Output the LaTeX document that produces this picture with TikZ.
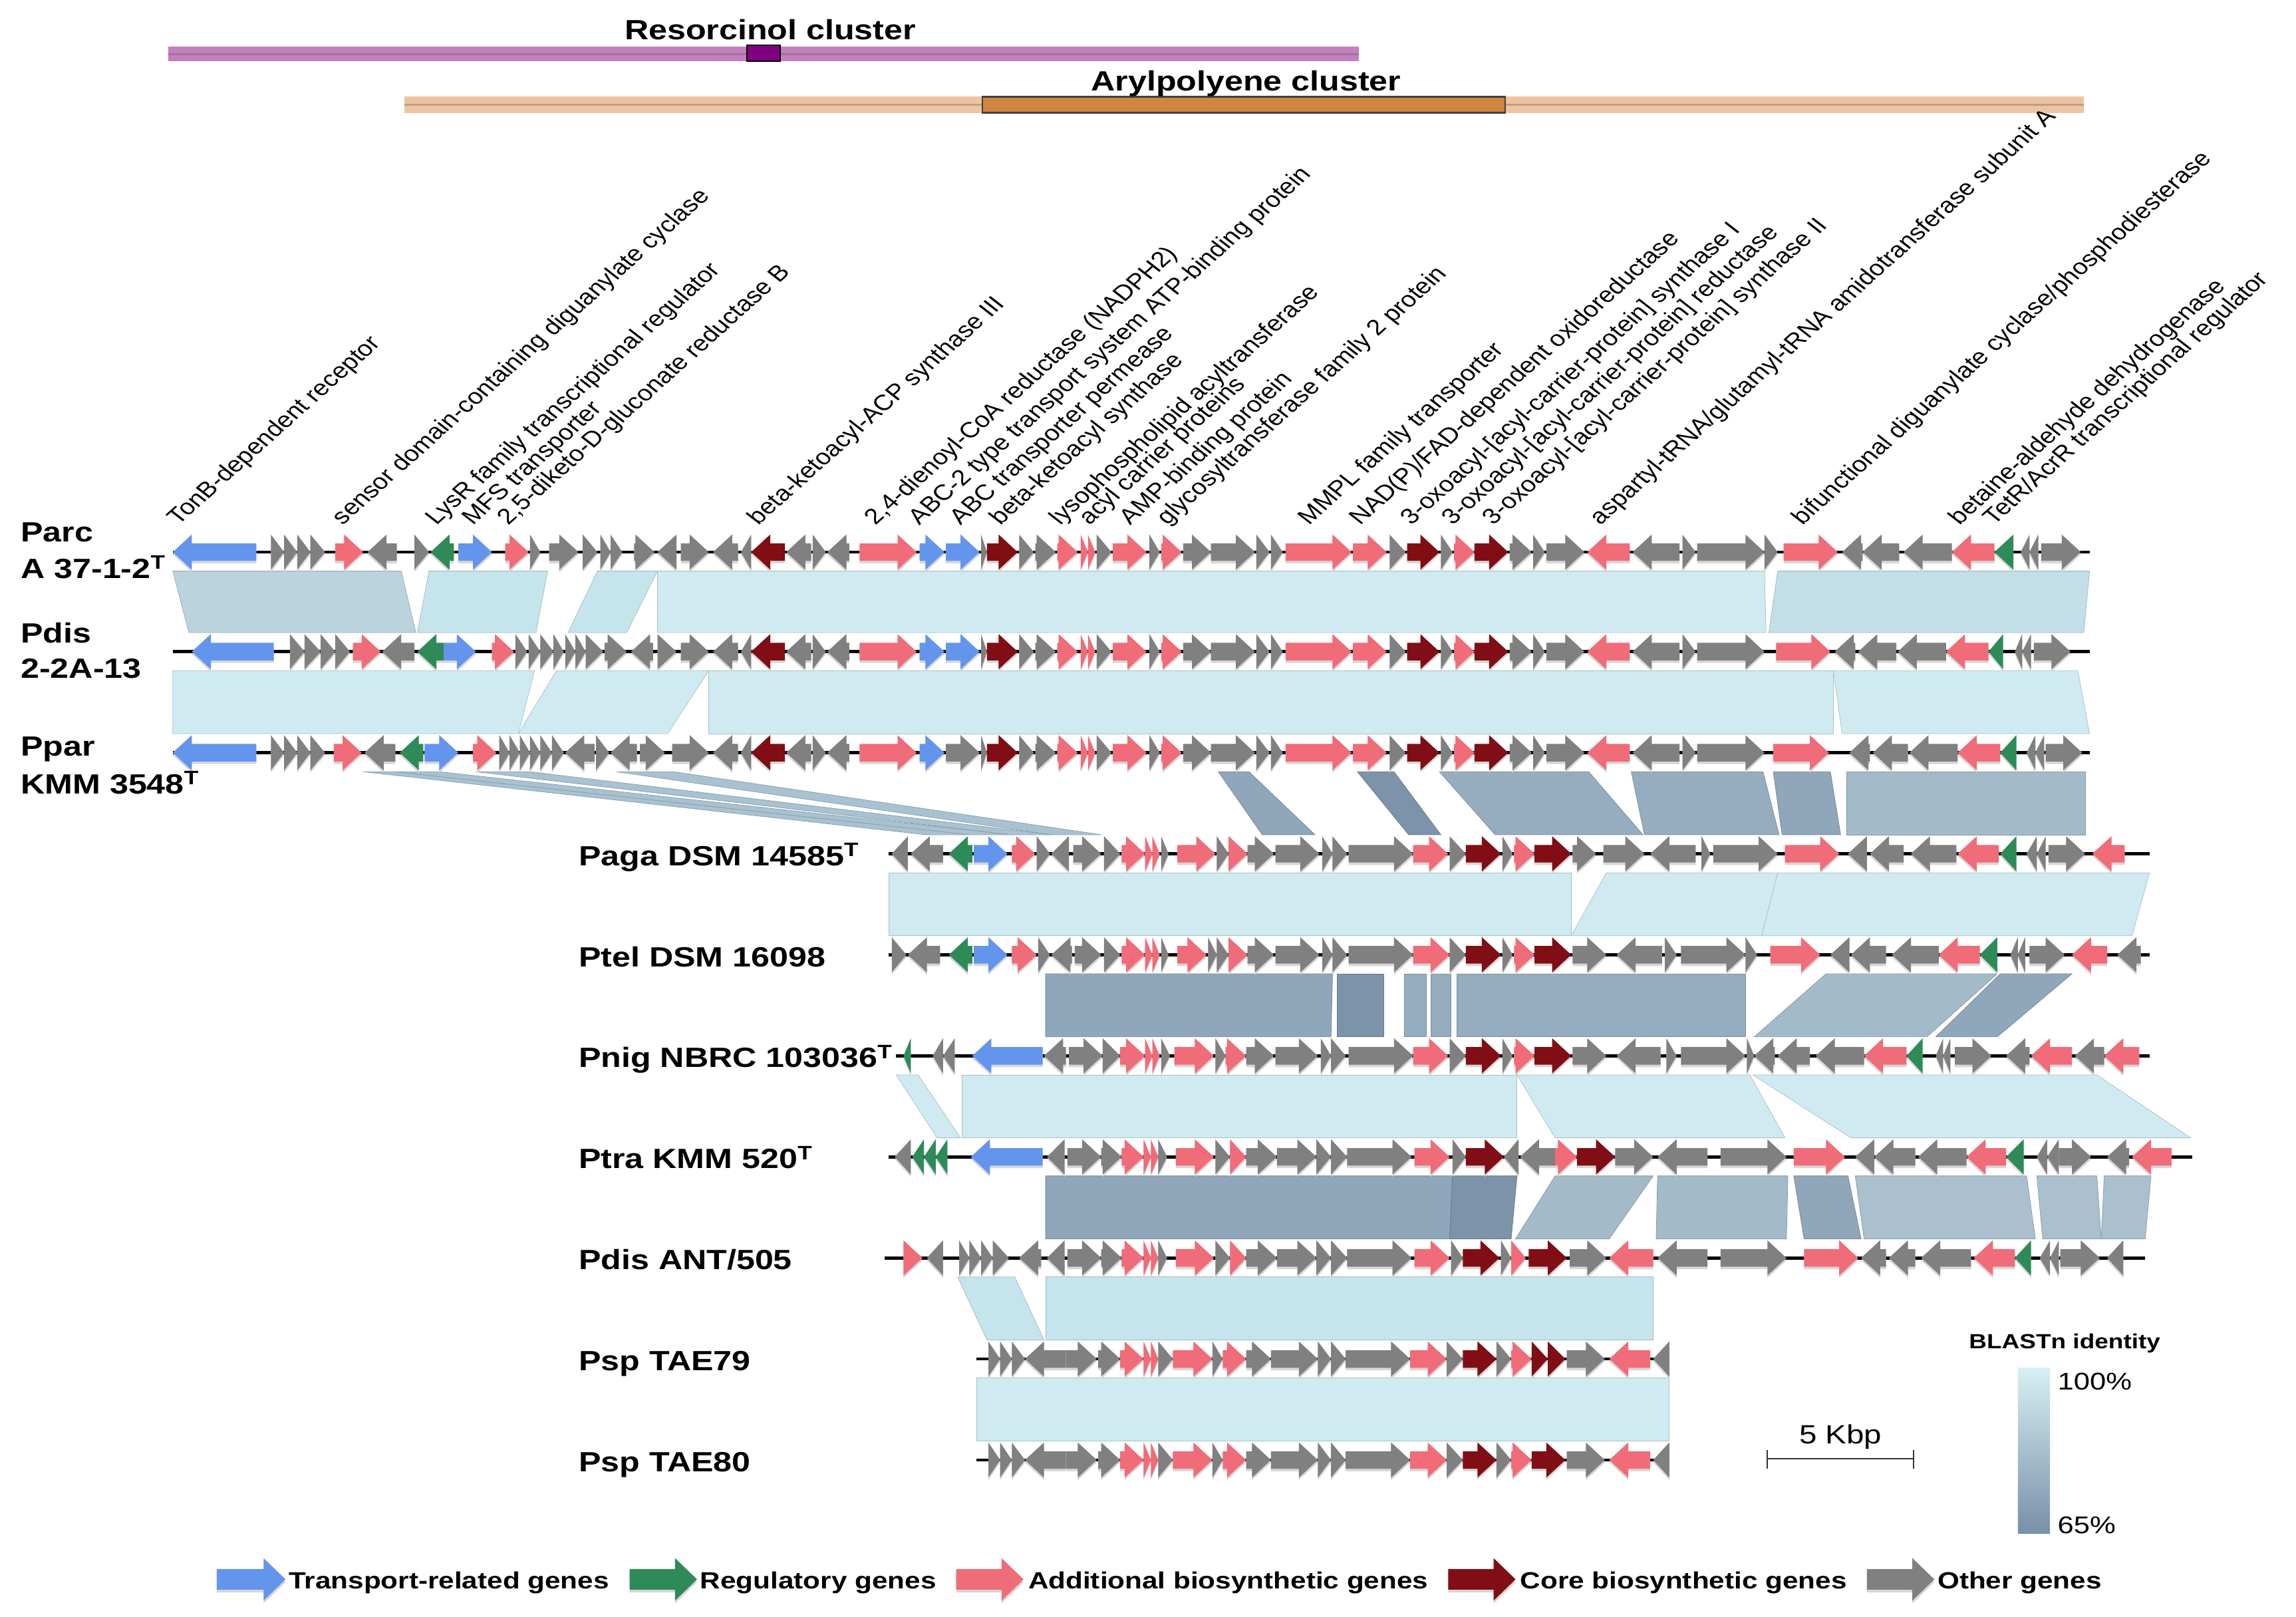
\documentclass[tikz,border=0pt]{standalone}
\usepackage{fontspec}
\setmainfont{Liberation Sans}
\definecolor{cT}{RGB}{100,149,237}
\definecolor{cG}{RGB}{46,139,87}
\definecolor{cA}{RGB}{240,108,120}
\definecolor{cC}{RGB}{128,14,20}
\definecolor{cO}{RGB}{128,128,128}
\definecolor{bHi}{RGB}{207,235,241}
\definecolor{bA}{RGB}{186,211,221}
\definecolor{bB}{RGB}{198,228,235}
\definecolor{bE}{RGB}{194,223,231}
\definecolor{bS}{RGB}{168,194,210}
\definecolor{dA}{RGB}{143,166,187}
\definecolor{dB}{RGB}{124,147,170}
\definecolor{dC}{RGB}{150,173,191}
\definecolor{dD}{RGB}{163,186,201}
\definecolor{dE}{RGB}{170,192,206}
\definecolor{purA}{RGB}{194,128,192}
\definecolor{purB}{RGB}{160,118,150}
\definecolor{purC}{RGB}{128,0,128}
\definecolor{orA}{RGB}{236,197,160}
\definecolor{orB}{RGB}{190,160,135}
\definecolor{orC}{RGB}{206,134,64}
\definecolor{gradTop}{RGB}{214,240,244}
\definecolor{gradBot}{RGB}{120,144,168}
% gene arrows
\newcommand\gR[3]{%
 \pgfmathsetmacro\ghx{max(#1,#2-13)}%
 \fill[black!16] (#1,\ry-4.3) -- (\ghx,\ry-4.3) -- (\ghx,\ry-10.3) -- (#2,\ry+1.7) -- (\ghx,\ry+13.7) -- (\ghx,\ry+7.7) -- (#1,\ry+7.7) -- cycle;
 \fill[#3] (#1,\ry-6) -- (\ghx,\ry-6) -- (\ghx,\ry-12) -- (#2,\ry) -- (\ghx,\ry+12) -- (\ghx,\ry+6) -- (#1,\ry+6) -- cycle;}
\newcommand\gL[3]{%
 \pgfmathsetmacro\ghx{min(#2,#1+13)}%
 \fill[black!16] (#2,\ry-4.3) -- (\ghx,\ry-4.3) -- (\ghx,\ry-10.3) -- (#1,\ry+1.7) -- (\ghx,\ry+13.7) -- (\ghx,\ry+7.7) -- (#2,\ry+7.7) -- cycle;
 \fill[#3] (#2,\ry-6) -- (\ghx,\ry-6) -- (\ghx,\ry-12) -- (#1,\ry) -- (\ghx,\ry+12) -- (\ghx,\ry+6) -- (#2,\ry+6) -- cycle;}
\newcommand\lgR[3]{%
 \fill[black!16] (#1,1073.5) -- (#2-15,1073.5) -- (#2-15,1066) -- (#2,1080.5) -- (#2-15,1095) -- (#2-15,1087.5) -- (#1,1087.5) -- cycle;
 \fill[#3] (#1,1071.5) -- (#2-15,1071.5) -- (#2-15,1064) -- (#2,1078.5) -- (#2-15,1093) -- (#2-15,1085.5) -- (#1,1085.5) -- cycle;}
% bands
\newcommand\bnd[7]{\filldraw[fill=#1,draw=#1!82!black,line width=0.35pt] (#4,#2) -- (#5,#2) -- (#7,#3) -- (#6,#3) -- cycle;}
% text helper
\newcommand\tx[4]{\begin{scope}[shift={(#1)}]\node[#2] (#3) at (0,0) {#4};\end{scope}}
\newcommand\glab[3]{\begin{scope}[shift={(#1,359)}]\node[glab] (#2) at (0,0) {#3};\end{scope}}
% common middle section of the first three genomes
\newcommand\midA[1]{%
\gL{513}{536}{cC}\gL{537}{554}{cO}\gR{555}{564}{cO}\gL{565}{580}{cO}%
\gR{587}{626}{cA}\gR{628}{645}{cT}\gR{646}{669}{#1}\gR{670}{674}{cO}%
\gR{674}{695}{cC}\gR{696}{706}{cO}\gR{707}{721}{cO}\gR{722}{736}{cA}%
\gR{738}{743}{cA}\gR{743}{748}{cA}\gR{749}{759}{cO}\gR{760}{783}{cA}%
\gR{785}{792}{cO}\gR{793}{807}{cA}\gR{808}{827}{cO}\gR{827}{857}{cO}%
\gR{858}{867}{cO}\gR{868}{876}{cO}\gR{878}{923}{cA}\gR{924}{947}{cA}%
\gR{949}{960}{cO}\gR{961}{983}{cC}\gR{984}{992}{cO}\gR{993}{1007}{cA}%
\gR{1007}{1030}{cC}\gR{1031}{1046}{cO}\gR{1047}{1055}{cO}\gR{1056}{1082}{cO}%
\gL{1084}{1113}{cA}\gL{1115}{1147}{cO}\gR{1149}{1158}{cO}\gR{1159}{1205}{cO}}
\begin{document}
\begin{tikzpicture}[x=1pt,y=-1pt,
  rlab/.style={anchor=base west,inner sep=0pt,font=\bfseries\fontsize{19}{19}\selectfont,xscale=1.2},
  glab/.style={anchor=base west,inner sep=0pt,font=\fontsize{15}{15}\selectfont,xscale=1.2,rotate=47},
  leg/.style={anchor=base west,inner sep=0pt,font=\bfseries\fontsize{16}{16}\selectfont,xscale=1.2},
  ttl/.style={anchor=base,inner sep=0pt,font=\bfseries\fontsize{19}{19}\selectfont,xscale=1.2},
  gline/.style={line width=2.2pt,black}]
\useasboundingbox (0,0) rectangle (1568,1104);
\fill[white] (0,0) rectangle (1568,1104);

% ---------- cluster bars ----------
\fill[purA] (115,32) rectangle (928,42);
\draw[purB,line width=1.4pt] (115,37) -- (928,37);
\filldraw[fill=purC,draw=black,line width=0.9pt] (510,31) rectangle (533,42);
\tx{526,27}{ttl}{resT}{Resorcinol cluster}
\fill[orA] (276,66) rectangle (1423,77);
\draw[orB,line width=1.4pt] (276,71.5) -- (1423,71.5);
\filldraw[fill=orC,draw=black!75,line width=1.1pt] (671,66) rectangle (1028,77);
\tx{851,62}{ttl}{aryT}{Arylpolyene cluster}

% ---------- BLAST bands ----------
\bnd{bA}{390}{432}{118}{274}{129}{284}
\bnd{bB}{390}{432}{293}{374}{285}{366}
\bnd{bB}{390}{432}{408}{449}{388}{428}
\bnd{bHi}{390}{432}{449}{1205}{449}{1206}
\bnd{bE}{390}{432}{1214}{1427}{1208}{1423}

\bnd{bHi}{458}{501}{118}{365}{118}{354}
\bnd{bHi}{458}{501}{380}{484}{354}{456}
\bnd{bHi}{458}{501}{484}{1252}{484}{1252}
\bnd{bHi}{458}{501}{1252}{1419}{1258}{1427}

\bnd{bS}{527}{570}{248}{270}{632}{662}
\bnd{bS}{527}{570}{270}{300}{662}{690}
\bnd{bS}{527}{570}{325}{362}{690}{718}
\bnd{bS}{527}{570}{421}{460}{718}{752}
\bnd{dA}{527}{570}{832}{853}{862}{898}
\bnd{dB}{527}{570}{927}{952}{962}{984}
\bnd{dC}{527}{570}{983}{1085}{1021}{1122}
\bnd{dC}{527}{570}{1114}{1204}{1123}{1215}
\bnd{dA}{527}{570}{1211}{1250}{1217}{1257}
\bnd{dD}{527}{570}{1261}{1424}{1261}{1424}

\bnd{bHi}{596}{639}{607}{1073}{607}{1073}
\bnd{bHi}{596}{639}{1097}{1214}{1073}{1203}
\bnd{bHi}{596}{639}{1214}{1468}{1203}{1456}

\bnd{dA}{665}{708}{714}{910}{714}{909}
\bnd{dB}{665}{708}{913}{945}{913}{945}
\bnd{dC}{665}{708}{959}{974}{959}{974}
\bnd{dC}{665}{708}{977}{991}{977}{991}
\bnd{dC}{665}{708}{995}{1192}{995}{1192}
\bnd{dD}{665}{708}{1247}{1364}{1198}{1316}
\bnd{dA}{665}{708}{1366}{1415}{1322}{1364}

\bnd{bHi}{734}{777}{612}{627}{640}{656}
\bnd{bHi}{734}{777}{657}{1036}{657}{1036}
\bnd{bHi}{734}{777}{1036}{1195}{1062}{1219}
\bnd{bHi}{734}{777}{1197}{1432}{1264}{1496}

\bnd{dA}{803}{846}{714}{992}{714}{990}
\bnd{dB}{803}{846}{992}{1036}{990}{1032}
\bnd{dD}{803}{846}{1062}{1129}{1035}{1099}
\bnd{dD}{803}{846}{1132}{1221}{1131}{1220}
\bnd{dA}{803}{846}{1225}{1262}{1232}{1271}
\bnd{dE}{803}{846}{1267}{1384}{1273}{1390}
\bnd{dE}{803}{846}{1391}{1432}{1395}{1435}
\bnd{dE}{803}{846}{1437}{1469}{1435}{1465}

\bnd{bB}{872}{915}{654}{693}{674}{713}
\bnd{bB}{872}{915}{714}{1129}{714}{1129}

\bnd{bHi}{941}{984}{667}{1140}{667}{1140}

% ---------- genome lines ----------
\draw[gline] (118,377) -- (1427,377);
\draw[gline] (118,445) -- (1427,445);
\draw[gline] (118,514) -- (1427,514);
\draw[gline] (607,583) -- (1468,583);
\draw[gline] (607,652) -- (1468,652);
\draw[gline] (612,721) -- (1468,721);
\draw[gline] (607,790) -- (1497,790);
\draw[gline] (604,859) -- (1465,859);
\draw[gline] (667,928) -- (1140,928);
\draw[gline] (667,997) -- (1140,997);

% ---------- Parc A 37-1-2 ----------
\def\ry{377}
\gL{118}{175}{cT}
\gR{185}{194}{cO}\gR{194}{203}{cO}\gR{203}{212}{cO}\gR{212}{222}{cO}
\gR{229}{248}{cA}\gL{251}{271}{cO}\gR{283}{293}{cO}\gL{294}{310}{cG}
\gR{313}{336}{cT}\gR{345}{361}{cA}\gR{362}{369}{cO}\gR{375}{395}{cO}
\gR{398}{408}{cO}\gR{410}{417}{cO}\gR{417}{425}{cO}\gR{433}{447}{cO}
\gL{449}{462}{cO}\gR{465}{484}{cO}\gL{487}{504}{cO}\gL{506}{513}{cO}
\midA{cT}
\gR{1205}{1214}{cO}\gR{1218}{1255}{cA}\gL{1258}{1272}{cO}\gL{1272}{1297}{cO}
\gL{1300}{1333}{cO}\gL{1333}{1362}{cA}\gL{1362}{1375}{cG}
\gL{1380}{1386}{cO}\gL{1386}{1392}{cO}\gR{1394}{1421}{cO}

% ---------- Pdis 2-2A-13 ----------
\def\ry{445}
\gL{131}{187}{cT}
\gR{198}{208}{cO}\gR{208}{219}{cO}\gR{219}{229}{cO}\gR{229}{239}{cO}
\gR{241}{260}{cA}\gL{261}{283}{cO}\gL{285}{303}{cG}\gR{303}{325}{cT}
\gR{336}{351}{cA}\gR{352}{360}{cO}\gR{361}{369}{cO}\gR{369}{378}{cO}
\gR{378}{385}{cO}\gR{386}{393}{cO}\gR{393}{400}{cO}\gR{400}{412}{cO}
\gR{413}{428}{cO}\gL{431}{446}{cO}\gR{449}{462}{cO}\gR{465}{484}{cO}
\gL{487}{504}{cO}\gL{506}{513}{cO}
\midA{cT}
\gR{1213}{1250}{cA}\gL{1253}{1267}{cO}\gL{1269}{1295}{cO}\gL{1296}{1329}{cO}
\gL{1329}{1358}{cA}\gL{1358}{1368}{cG}\gL{1376}{1381}{cO}\gL{1381}{1387}{cO}
\gR{1389}{1414}{cO}

% ---------- Ppar KMM 3548 ----------
\def\ry{514}
\gL{118}{175}{cT}
\gR{185}{194}{cO}\gR{194}{203}{cO}\gR{203}{212}{cO}\gR{212}{222}{cO}
\gR{228}{247}{cA}\gL{249}{270}{cO}\gL{273}{289}{cG}\gR{290}{313}{cT}
\gR{323}{339}{cA}\gR{341}{348}{cO}\gR{348}{355}{cO}\gR{355}{362}{cO}
\gR{362}{369}{cO}\gR{369}{377}{cO}\gR{377}{385}{cO}\gL{386}{406}{cO}
\gR{407}{416}{cO}\gL{417}{435}{cO}\gR{437}{454}{cO}\gR{459}{484}{cO}
\gL{487}{504}{cO}\gL{506}{513}{cO}
\midA{cO}
\gR{1211}{1249}{cA}\gL{1263}{1277}{cO}\gL{1279}{1303}{cO}\gL{1304}{1337}{cO}
\gL{1337}{1366}{cA}\gL{1366}{1377}{cG}\gL{1384}{1390}{cO}\gL{1390}{1396}{cO}
\gR{1397}{1422}{cO}

% ---------- Paga DSM 14585 ----------
\def\ry{583}
\gL{609}{620}{cO}\gL{622}{644}{cO}\gL{648}{664}{cG}\gR{665}{688}{cT}
\gR{691}{707}{cA}\gR{708}{717}{cO}\gL{718}{730}{cO}\gR{733}{752}{cO}
\gR{754}{765}{cO}\gR{766}{782}{cA}\gR{782}{787}{cA}\gR{787}{792}{cA}
\gR{793}{798}{cO}\gR{804}{830}{cA}\gR{831}{839}{cO}\gR{839}{852}{cA}
\gR{852}{870}{cO}\gR{871}{901}{cO}\gR{903}{910}{cO}\gR{910}{920}{cO}
\gR{921}{965}{cO}\gR{965}{989}{cA}\gR{990}{1001}{cO}\gR{1001}{1025}{cC}
\gR{1026}{1033}{cO}\gR{1034}{1048}{cA}\gR{1048}{1073}{cC}\gR{1074}{1090}{cO}
\gR{1095}{1123}{cO}\gL{1127}{1158}{cO}\gR{1162}{1168}{cO}\gR{1170}{1214}{cO}
\gR{1219}{1256}{cA}\gL{1262}{1275}{cO}\gL{1277}{1300}{cO}\gL{1305}{1336}{cO}
\gL{1337}{1365}{cA}\gL{1366}{1377}{cG}\gL{1384}{1391}{cO}\gL{1391}{1397}{cO}
\gR{1399}{1424}{cO}\gL{1429}{1451}{cA}

% ---------- Ptel DSM 16098 ----------
\def\ry{652}
\gR{609}{619}{cO}\gL{620}{642}{cO}\gL{648}{664}{cG}\gR{665}{688}{cT}
\gR{691}{708}{cA}\gR{709}{717}{cO}\gL{718}{732}{cO}\gR{734}{752}{cO}
\gR{754}{765}{cO}\gR{766}{782}{cA}\gR{782}{787}{cA}\gR{787}{792}{cA}
\gR{793}{798}{cO}\gR{804}{824}{cA}\gR{825}{831}{cO}\gR{831}{839}{cO}
\gR{839}{852}{cA}\gR{852}{870}{cO}\gR{871}{901}{cO}\gR{903}{910}{cO}
\gR{910}{920}{cO}\gR{921}{965}{cO}\gR{965}{990}{cA}\gR{990}{1001}{cO}
\gR{1001}{1025}{cC}\gR{1026}{1033}{cO}\gR{1034}{1048}{cA}\gR{1048}{1073}{cC}
\gR{1074}{1097}{cO}\gL{1104}{1135}{cO}\gR{1137}{1145}{cO}\gR{1148}{1192}{cO}
\gR{1192}{1200}{cO}\gR{1209}{1243}{cA}\gL{1250}{1263}{cO}\gL{1264}{1288}{cO}
\gL{1292}{1324}{cO}\gL{1324}{1352}{cA}\gL{1352}{1364}{cG}\gL{1373}{1378}{cO}
\gL{1378}{1383}{cO}\gR{1386}{1410}{cO}\gL{1415}{1439}{cA}\gL{1446}{1462}{cO}

% ---------- Pnig NBRC 103036 ----------
\def\ry{721}
\gL{617}{622}{cG}\gL{637}{644}{cO}\gL{644}{652}{cO}\gL{664}{712}{cT}
\gL{713}{728}{cO}\gR{730}{753}{cO}\gR{753}{765}{cO}\gR{765}{782}{cA}
\gR{782}{787}{cA}\gR{787}{792}{cA}\gR{793}{799}{cO}\gR{802}{829}{cA}
\gR{830}{837}{cO}\gR{837}{851}{cA}\gR{851}{870}{cO}\gR{871}{900}{cO}
\gR{902}{909}{cO}\gR{909}{919}{cO}\gR{921}{965}{cO}\gR{965}{989}{cA}
\gR{990}{1001}{cO}\gR{1001}{1025}{cC}\gR{1026}{1033}{cO}\gR{1034}{1048}{cA}
\gR{1048}{1073}{cC}\gR{1074}{1097}{cO}\gL{1104}{1134}{cO}\gR{1138}{1145}{cO}
\gR{1148}{1192}{cO}\gR{1193}{1198}{cO}\gL{1198}{1212}{cO}\gL{1214}{1236}{cO}
\gL{1240}{1273}{cO}\gL{1273}{1302}{cA}\gL{1302}{1313}{cG}\gL{1322}{1327}{cO}
\gL{1327}{1332}{cO}\gR{1335}{1360}{cO}\gL{1370}{1386}{cO}\gL{1387}{1415}{cA}
\gL{1417}{1437}{cO}\gL{1437}{1461}{cA}

% ---------- Ptra KMM 520 ----------
\def\ry{790}
\gL{611}{622}{cO}\gL{623}{631}{cG}\gL{631}{639}{cG}\gL{639}{647}{cG}
\gL{663}{712}{cT}\gL{715}{727}{cO}\gR{729}{752}{cO}\gR{752}{766}{cO}
\gR{766}{781}{cA}\gR{781}{786}{cA}\gR{786}{791}{cA}\gR{791}{797}{cO}
\gR{803}{829}{cA}\gR{830}{840}{cO}\gR{840}{851}{cA}\gR{851}{872}{cO}
\gR{872}{899}{cO}\gR{899}{909}{cO}\gR{909}{920}{cO}\gR{920}{964}{cO}
\gR{966}{990}{cA}\gR{992}{1001}{cO}\gR{1001}{1027}{cC}\gL{1027}{1037}{cO}
\gL{1038}{1062}{cO}\gR{1062}{1077}{cA}\gR{1077}{1103}{cC}\gR{1103}{1129}{cO}
\gL{1132}{1166}{cO}\gR{1175}{1220}{cO}\gR{1225}{1260}{cA}\gL{1267}{1280}{cO}
\gL{1280}{1308}{cO}\gL{1310}{1343}{cO}\gL{1343}{1370}{cA}\gL{1370}{1382}{cG}
\gL{1391}{1398}{cO}\gL{1398}{1406}{cO}\gR{1406}{1428}{cO}\gL{1439}{1454}{cO}
\gL{1456}{1483}{cA}

% ---------- Pdis ANT/505 ----------
\def\ry{859}
\gR{617}{630}{cA}\gL{633}{644}{cO}\gR{655}{662}{cO}\gR{662}{670}{cO}
\gR{670}{678}{cO}\gR{678}{689}{cO}\gL{696}{711}{cO}\gL{715}{727}{cO}
\gR{729}{752}{cO}\gR{752}{766}{cO}\gR{766}{781}{cA}\gR{781}{786}{cA}
\gR{786}{791}{cA}\gR{791}{797}{cO}\gR{803}{829}{cA}\gR{830}{840}{cO}
\gR{840}{851}{cA}\gR{851}{872}{cO}\gR{872}{899}{cO}\gR{899}{909}{cO}
\gR{909}{920}{cO}\gR{920}{964}{cO}\gR{966}{990}{cA}\gR{991}{999}{cO}
\gR{999}{1024}{cC}\gR{1025}{1032}{cO}\gR{1032}{1042}{cA}\gR{1044}{1070}{cC}
\gR{1072}{1097}{cO}\gL{1099}{1129}{cA}\gL{1132}{1166}{cO}\gR{1175}{1220}{cO}
\gR{1232}{1269}{cA}\gL{1271}{1288}{cO}\gL{1290}{1308}{cO}\gL{1312}{1346}{cO}
\gL{1348}{1376}{cA}\gL{1376}{1387}{cG}\gL{1393}{1400}{cO}\gL{1400}{1406}{cO}
\gR{1407}{1434}{cO}\gL{1439}{1450}{cO}

% ---------- Psp TAE79 ----------
\def\ry{928}
\gR{675}{683}{cO}\gR{683}{691}{cO}\gR{691}{700}{cO}\gL{700}{728}{cO}
\gR{728}{749}{cO}\gR{750}{765}{cO}\gR{765}{781}{cA}\gR{781}{786}{cA}
\gR{786}{791}{cA}\gR{791}{801}{cO}\gR{801}{828}{cA}\gR{828}{835}{cO}
\gR{835}{851}{cA}\gR{851}{868}{cO}\gR{868}{900}{cO}\gR{900}{909}{cO}
\gR{909}{919}{cO}\gR{919}{963}{cO}\gR{963}{988}{cA}\gR{988}{999}{cO}
\gR{999}{1022}{cC}\gR{1022}{1032}{cO}\gR{1032}{1046}{cA}\gR{1046}{1057}{cC}
\gR{1057}{1069}{cC}\gR{1070}{1096}{cO}\gL{1099}{1127}{cA}\gL{1129}{1140}{cO}

% ---------- Psp TAE80 ----------
\def\ry{997}
\gR{675}{683}{cO}\gR{683}{691}{cO}\gR{691}{700}{cO}\gL{700}{728}{cO}
\gR{728}{749}{cO}\gR{750}{765}{cO}\gR{765}{781}{cA}\gR{781}{786}{cA}
\gR{786}{791}{cA}\gR{791}{801}{cO}\gR{801}{828}{cA}\gR{828}{835}{cO}
\gR{835}{851}{cA}\gR{851}{868}{cO}\gR{868}{900}{cO}\gR{900}{909}{cO}
\gR{909}{919}{cO}\gR{919}{963}{cO}\gR{963}{988}{cA}\gR{988}{999}{cO}
\gR{999}{1022}{cC}\gR{1022}{1032}{cO}\gR{1032}{1046}{cA}\gR{1046}{1069}{cC}
\gR{1070}{1096}{cO}\gL{1099}{1127}{cA}\gL{1129}{1140}{cO}

% ---------- row labels ----------
\tx{14,370}{rlab}{r1a}{Parc}
\tx{14,395}{rlab}{r1b}{A 37-1-2\textsuperscript{T}}
\tx{14,439}{rlab}{r2a}{Pdis}
\tx{14,463}{rlab}{r2b}{2-2A-13}
\tx{14,516}{rlab}{r3a}{Ppar}
\tx{14,542}{rlab}{r3b}{KMM 3548\textsuperscript{T}}
\tx{395,591}{rlab}{r4}{Paga DSM 14585\textsuperscript{T}}
\tx{395,660}{rlab}{r5}{Ptel DSM 16098}
\tx{395,729}{rlab}{r6}{Pnig NBRC 103036\textsuperscript{T}}
\tx{395,798}{rlab}{r7}{Ptra KMM 520\textsuperscript{T}}
\tx{395,867}{rlab}{r8}{Pdis ANT/505}
\tx{395,936}{rlab}{r9}{Psp TAE79}
\tx{395,1005}{rlab}{r10}{Psp TAE80}

% ---------- gene labels ----------
\glab{122}{g1}{TonB-dependent receptor}
\glab{234}{g2}{sensor domain-containing diguanylate cyclase}
\glab{298}{g3}{LysR family transcriptional regulator}
\glab{323}{g4}{MFS transporter}
\glab{347}{g5}{2,5-diketo-D-gluconate reductase B}
\glab{518}{g6}{beta-ketoacyl-ACP synthase III}
\glab{598}{g7}{2,4-dienoyl-CoA reductase (NADPH2)}
\glab{628}{g8}{ABC-2 type transport system ATP-binding protein}
\glab{656}{g9}{ABC transporter permease}
\glab{683}{g10}{beta-ketoacyl synthase}
\glab{724}{g11}{lysophospholipid acyltransferase}
\glab{744}{g12}{acyl carrier proteins}
\glab{772}{g13}{AMP-binding protein}
\glab{797}{g14}{glycosyltransferase family 2 protein}
\glab{894}{g15}{MMPL family transporter}
\glab{929}{g16}{NAD(P)/FAD-dependent oxidoreductase}
\glab{964}{g17}{3-oxoacyl-[acyl-carrier-protein] synthase I}
\glab{992}{g18}{3-oxoacyl-[acyl-carrier-protein] reductase}
\glab{1020}{g19}{3-oxoacyl-[acyl-carrier-protein] synthase II}
\glab{1093}{g20}{aspartyl-tRNA/glutamyl-tRNA amidotransferase subunit A}
\glab{1231}{g21}{bifunctional diguanylate cyclase/phosphodiesterase}
\glab{1338}{g22}{betaine-aldehyde dehydrogenase}
\glab{1362}{g23}{TetR/AcrR transcriptional regulator}

% ---------- scale bar and identity key ----------
\draw[line width=0.9pt,black!80] (1207,996) -- (1307,996);
\draw[line width=0.9pt,black!80] (1207,990) -- (1207,1003);
\draw[line width=0.9pt,black!80] (1307,990) -- (1307,1003);
\tx{1257,986}{anchor=base,inner sep=0pt,font=\fontsize{18}{18}\selectfont,xscale=1.2}{kbp}{5 Kbp}
\tx{1410,921}{anchor=base,inner sep=0pt,font=\bfseries\fontsize{14}{14}\selectfont,xscale=1.2}{blt}{BLASTn identity}
\shade[top color=gradTop,bottom color=gradBot] (1378,934) rectangle (1400,1047);
\tx{1405,949}{anchor=base west,inner sep=0pt,font=\fontsize{16.5}{16.5}\selectfont,xscale=1.2}{hundred}{100\%}
\tx{1405,1047}{anchor=base west,inner sep=0pt,font=\fontsize{16.5}{16.5}\selectfont,xscale=1.2}{sixtyfive}{65\%}

% ---------- legend ----------
\lgR{148}{195}{cT}\tx{197,1085}{leg}{l1}{Transport-related genes}
\lgR{430}{476}{cG}\tx{478,1085}{leg}{l2}{Regulatory genes}
\lgR{653}{699}{cA}\tx{702,1085}{leg}{l3}{Additional biosynthetic genes}
\lgR{989}{1035}{cC}\tx{1038,1085}{leg}{l4}{Core biosynthetic genes}
\lgR{1275}{1321}{cO}\tx{1323,1085}{leg}{l5}{Other genes}
\end{tikzpicture}
\end{document}
